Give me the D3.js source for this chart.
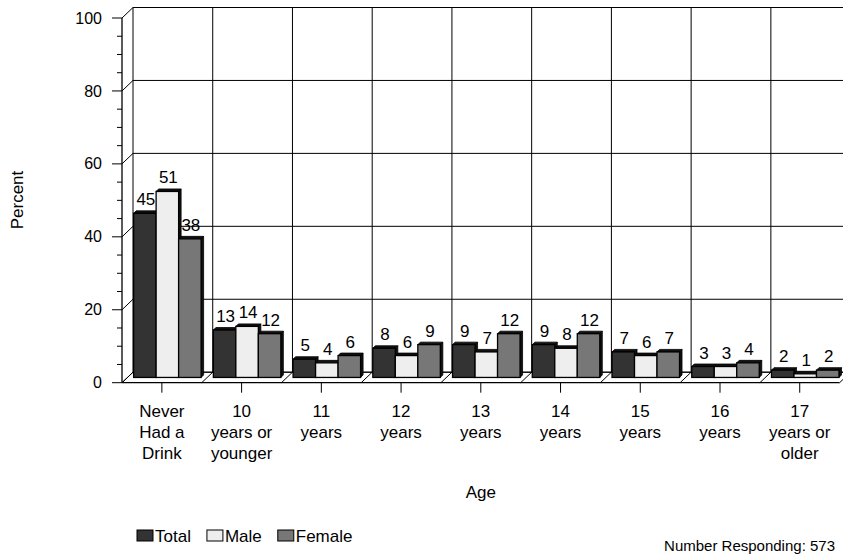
<!DOCTYPE html>
<html><head><meta charset="utf-8">
<script src="https://cdn.jsdelivr.net/npm/d3@7"></script>
<style>body{margin:0;background:#fff}svg{display:block;font-family:"Liberation Sans",Arial,sans-serif}</style>
</head><body>
<svg id="c" width="843" height="556"></svg>
<script>
const categories = [["Never","Had a","Drink"],["10","years or","younger"],["11","years"],["12","years"],["13","years"],["14","years"],["15","years"],["16","years"],["17","years or","older"]];
const seriesNames = ["Total","Male","Female"];
const totalValues = [45,13,5,8,9,9,7,3,2];
const maleValues = [51,14,4,6,7,8,6,3,1];
const femaleValues = [38,12,6,9,12,12,7,4,2];
const yTicks = [0,20,40,60,80,100];
const colors = ["#333333","#eeeeee","#777777"];
const series = [totalValues, maleValues, femaleValues];

const svg = d3.select("#c");
const x0 = 122, x1 = 839.6;
const DX = 11, DY = -10.5;
const x = d3.scaleBand().domain(d3.range(categories.length)).range([x0, x1]);
const xs = d3.scaleBand().domain(d3.range(3)).range([0, 67.5]);
const y = d3.scaleLinear().domain([0,100]).range([382.7, 18]);

const g = svg.append("g");
g.append("rect").attr("x", x0+DX).attr("y", y(100)+DY).attr("width", x1-x0).attr("height", y(0)-y(100)).attr("fill","#fff").attr("stroke","none");
g.selectAll(".hg").data(yTicks).join("line")
  .attr("x1", x0+DX).attr("x2", x1+DX)
  .attr("y1", d=>y(d)+DY).attr("y2", d=>y(d)+DY)
  .attr("stroke","#000").attr("stroke-width",1);
g.selectAll(".vg").data(d3.range(categories.length+1)).join("line")
  .attr("x1", d=>x0+d*x.bandwidth()+DX).attr("x2", d=>x0+d*x.bandwidth()+DX)
  .attr("y1", y(100)+DY).attr("y2", y(0)+DY)
  .attr("stroke","#000").attr("stroke-width",1);
g.selectAll(".ld").data(yTicks).join("line")
  .attr("x1", x0).attr("x2", x0+DX)
  .attr("y1", d=>y(d)).attr("y2", d=>y(d)+DY)
  .attr("stroke","#000").attr("stroke-width",1);
g.append("line").attr("x1",x0+DX).attr("x2",x1+DX).attr("y1",y(0)+DY).attr("y2",y(0)+DY).attr("stroke","#000");
g.selectAll(".fd").data(d3.range(categories.length+1)).join("line")
  .attr("x1", d=>x0+d*x.bandwidth()).attr("x2", d=>x0+d*x.bandwidth()+DX)
  .attr("y1", y(0)).attr("y2", y(0)+DY)
  .attr("stroke","#000").attr("stroke-width",1);

const MX = DX/2, MY = DY/2, BD = 2.5;
const groupOff = (x.bandwidth()-67.5)/2;
series.forEach((vals, si) => {
  const bg = g.append("g");
  vals.forEach((v, ci) => {
    const bx = x(ci) + MX + groupOff + xs(si);
    const bw = xs.bandwidth();
    const top = y(v) + MY, base = y(0) + MY;
    bg.append("polygon").attr("points", [[bx+bw,top],[bx+bw+BD,top-BD],[bx+bw+BD,base-BD],[bx+bw,base]].join(" ")).attr("fill","#111").attr("stroke","#000").attr("stroke-width",0.8);
    bg.append("polygon").attr("points", [[bx,top],[bx+BD,top-BD],[bx+bw+BD,top-BD],[bx+bw,top]].join(" ")).attr("fill","#111").attr("stroke","#000").attr("stroke-width",0.8);
    bg.append("rect").attr("x", bx).attr("y", top).attr("width", bw).attr("height", base-top)
      .attr("fill", colors[si]).attr("stroke","#000").attr("stroke-width",1.3);
  });
});
series.forEach((vals, si) => {
  g.selectAll(".vl"+si).data(vals).join("text")
    .attr("x", (v,ci)=> x(ci)+MX+groupOff+xs(si)+xs.bandwidth()/2+1)
    .attr("y", v=> y(v)+MY-8)
    .attr("text-anchor","middle").attr("font-size",17).attr("fill","#000")
    .text(v=>v);
});

const yAxis = g.append("g");
yAxis.append("line").attr("x1",x0).attr("x2",x0).attr("y1",y(100)).attr("y2",y(0)).attr("stroke","#000").attr("stroke-width",1.3);
yAxis.selectAll(".mt").data(d3.range(0,101,5)).join("line")
  .attr("x1", d=> d%20===0 ? x0-10 : x0-5).attr("x2", x0)
  .attr("y1", d=>y(d)).attr("y2", d=>y(d)).attr("stroke","#000");
yAxis.selectAll(".tl").data(yTicks).join("text")
  .attr("x", x0-20).attr("y", d=>y(d)).attr("dy","0.35em")
  .attr("text-anchor","end").attr("font-size",16).text(d=>d);
g.append("line").attr("x1",x0).attr("x2",x1).attr("y1",y(0)).attr("y2",y(0)).attr("stroke","#000").attr("stroke-width",1.3);
g.selectAll(".xt").data(d3.range(categories.length)).join("line")
  .attr("x1", d=>x(d)+x.bandwidth()/2).attr("x2", d=>x(d)+x.bandwidth()/2)
  .attr("y1", y(0)).attr("y2", y(0)+10).attr("stroke","#000");
categories.forEach((lines, ci) => {
  const t = g.append("text").attr("text-anchor","middle").attr("font-size",17);
  lines.forEach((ln, li) => {
    t.append("tspan").attr("x", x(ci)+x.bandwidth()/2).attr("y", 417 + li*21).text(ln);
  });
});
g.append("text").attr("x", (x0+x1)/2).attr("y", 498).attr("text-anchor","middle").attr("font-size",17).text("Age");
g.append("text").attr("transform","translate(23,200) rotate(-90)").attr("text-anchor","middle").attr("font-size",17).text("Percent");

const lg = g.append("g");
let lx = 137;
seriesNames.forEach((n, i) => {
  lg.append("rect").attr("x", lx).attr("y", 530).attr("width", 16).attr("height", 11).attr("fill", colors[i]).attr("stroke","#000");
  const t = lg.append("text").attr("x", lx+18).attr("y", 541.5).attr("font-size",17).text(n);
  lx += 18 + t.node().getComputedTextLength() + 16;
});
g.append("text").attr("x", 835).attr("y", 551).attr("text-anchor","end").attr("font-size",15).text("Number Responding: 573");
</script>
</body></html>
